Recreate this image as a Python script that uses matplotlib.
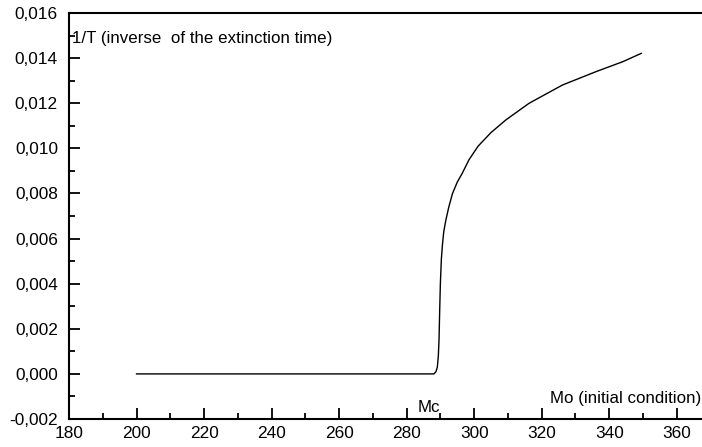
import numpy as np
import matplotlib
matplotlib.use('Agg')
from matplotlib import pyplot as plt
from matplotlib.ticker import MultipleLocator, FuncFormatter

plt.rcParams['font.family'] = ['Liberation Sans', 'DejaVu Sans']

# initial condition Mo and inverse extinction time 1/T
mo = [200, 288.1, 288.7, 289.1, 289.4, 289.6, 289.8, 290.0, 290.3, 290.6,
      291.0, 291.6, 292.5, 293.6, 295, 296.5, 298.5, 301.2, 305, 309.4,
      316.3, 326.2, 336.1, 344.0, 349.5]
inv_t = [0.0, 0.0, 0.0001, 0.0003, 0.0008, 0.0015, 0.0028, 0.0040, 0.0051,
         0.0057, 0.0063, 0.0068, 0.0074, 0.0080, 0.0085, 0.0089, 0.0095,
         0.0101, 0.0107, 0.01126, 0.0120, 0.01281, 0.0134, 0.01384, 0.01421]


def comma(v, pos):
    return ('%.3f' % v).replace('.', ',').replace('-0,000', '0,000')


fig = plt.figure(figsize=(7.02, 4.47), dpi=100)
ax = fig.add_axes([0.0983, 0.0626, 0.9017, 0.9083])
ax.plot(mo, inv_t, color='black', lw=1.0)

ax.set_xlim(180, 367.5)
ax.set_ylim(-0.002, 0.016)
ax.xaxis.set_major_locator(MultipleLocator(20))
ax.xaxis.set_minor_locator(MultipleLocator(10))
ax.yaxis.set_major_locator(MultipleLocator(0.002))
ax.yaxis.set_minor_locator(MultipleLocator(0.001))
ax.yaxis.set_major_formatter(FuncFormatter(comma))
ax.tick_params(which='both', direction='in', labelsize=12.4, width=1.3)
ax.tick_params(which='major', length=8)
ax.tick_params(which='minor', length=4)
ax.tick_params(axis='y', pad=8)
ax.tick_params(axis='x', pad=5)
ax.tick_params(top=False, right=False, which='both')
ax.spines['right'].set_visible(False)
for s in ('left', 'bottom', 'top'):
    ax.spines[s].set_linewidth(1.5)

ax.text(181.0, 0.01489, '1/T (inverse  of the extinction time)',
        fontsize=12.2, va='center', ha='left')
ax.text(367.2, -0.00107, 'Mo (initial condition)', fontsize=12.2,
        va='center', ha='right')
ax.text(286.7, -0.0015, 'Mc', fontsize=12.2, va='center', ha='center')

fig.savefig('out.png', dpi=100)
